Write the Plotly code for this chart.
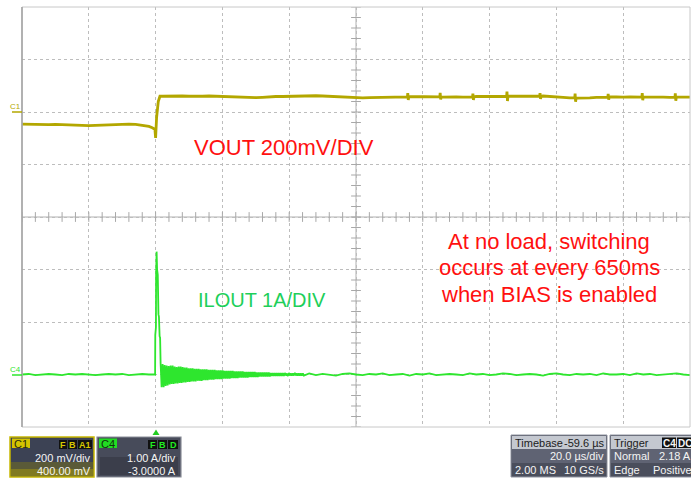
import numpy as np
import plotly.graph_objects as go

# ---------------- data ----------------
# time axis in microseconds, trigger at t = 0 (20 us/div, 10 div)
T_MIN, T_MAX = -40, 160
V_PER_DIV_MV = 200.0   # C1 200 mV/div
I_PER_DIV_A = 1.0      # C4 1 A/div
C1_OFFSET_DIV = 2.0    # C1 reference marker position (div)
C4_OFFSET_DIV = -3.0   # C4 reference marker position (div)

# VOUT (mV relative to C1 marker)
vout_pre_t = np.arange(-40, -1, 2)
vout_pre = [-46, -47, -46, -47, -48, -47, -47, -49, -50, -52,
            -52, -51, -50, -49, -47, -46, -46, -47, -50, -55]
vout_step_t = [-1.0, -0.5, -0.2, 0.0, 0.3, 0.8, 1.3]
vout_step = [-60, -64, -66, -99, -20, 40, 60]
vout_post_t = np.arange(2, 161, 2)
vout_post = [60, 61, 60, 61, 60, 59, 60, 61, 60, 59, 60,
             58, 57, 56, 55,
             56, 58, 59, 59, 60, 59,
             60, 61, 62, 61, 60,
             58, 56, 55, 55, 54, 55, 56, 55, 56, 57,
             58, 59, 59, 58, 59,
             58, 57, 58, 58, 57, 58, 59,
             59, 60, 59, 59, 60, 60, 61,
             61, 62, 61, 60, 58, 56,
             54, 53, 53, 54, 56,
             57, 58, 57, 57, 58, 57, 56, 57, 58, 57, 56, 57, 58, 57]
spike_t = [75.5, 85.2, 95.0, 105.2, 115.1, 125.6, 135.5, 145.7, 155.6]
spike_base = [58, 58, 58, 60, 60, 54, 57, 57, 57]
spike_hi = [72, 73, 70, 78, 72, 70, 69, 72, 71]
spike_lo = [46, 48, 46, 42, 50, 39, 47, 45, 43]

# ILOUT (A)
il_pre_t = np.arange(-40, -1, 2)
il_pre = [0.00, 0.01, -0.01, 0.00, 0.01, 0.00, -0.01, 0.01, 0.00, 0.01,
          0.00, -0.01, 0.00, 0.01, 0.00, 0.01, -0.01, 0.00, 0.01, 0.00]
il_spike_t = [-0.5, -0.15, -0.1, 0.1, 0.15, 0.3, 0.45, 0.65, 0.85, 1.0, 1.2, 1.35]
il_spike = [0.01, 0.00, 0.75, 0.90, 1.90, 2.34, 2.00, 1.90, 1.15, 1.10, 0.73, 0.70]
ring_t0, ring_period = 1.5, 0.6
ring_hi = [0.21, 0.20, 0.18, 0.17, 0.16, 0.17, 0.17, 0.15, 0.14, 0.15,
           0.15, 0.14, 0.13, 0.13, 0.12, 0.12, 0.12, 0.11, 0.11, 0.11,
           0.10, 0.10, 0.10, 0.10, 0.09, 0.09, 0.09, 0.09, 0.08, 0.08,
           0.08, 0.08, 0.07, 0.07, 0.07, 0.07, 0.07, 0.06, 0.06, 0.06,
           0.06, 0.06, 0.05, 0.05, 0.05, 0.05, 0.05, 0.05, 0.04, 0.04,
           0.04, 0.04, 0.04, 0.04, 0.04, 0.03, 0.03, 0.03, 0.03, 0.03,
           0.03, 0.03, 0.03, 0.02, 0.03, 0.02, 0.02, 0.03, 0.02, 0.02,
           0.02, 0.02]
ring_lo = [-0.24, -0.24, -0.22, -0.21, -0.19, -0.18, -0.18, -0.17, -0.17, -0.16,
           -0.16, -0.15, -0.15, -0.14, -0.14, -0.13, -0.13, -0.13, -0.12, -0.12,
           -0.12, -0.11, -0.11, -0.11, -0.10, -0.10, -0.10, -0.09, -0.09, -0.09,
           -0.09, -0.08, -0.08, -0.08, -0.08, -0.07, -0.07, -0.07, -0.07, -0.06,
           -0.06, -0.06, -0.06, -0.06, -0.05, -0.05, -0.05, -0.05, -0.05, -0.04,
           -0.04, -0.04, -0.04, -0.04, -0.04, -0.03, -0.03, -0.03, -0.03, -0.03,
           -0.03, -0.03, -0.02, -0.03, -0.02, -0.02, -0.02, -0.02, -0.02, -0.02,
           -0.02, -0.02]
il_post_t = np.arange(46, 161, 2)
il_post = [0.02, -0.01, 0.01, 0.00, -0.02, 0.01, 0.02, 0.00, -0.01, 0.01,
           0.00, 0.02, -0.01, 0.00, 0.01, -0.02, 0.01, 0.00, 0.02, -0.01,
           0.00, 0.01, 0.00, -0.01, 0.02, 0.00, 0.01, -0.01, 0.00, 0.02,
           0.01, -0.01, 0.00, 0.01, 0.00, -0.02, 0.01, 0.02, 0.00, -0.01,
           0.01, 0.00, 0.01, -0.01, 0.02, 0.00, 0.00, 0.01, -0.01, 0.02,
           0.00, 0.01, -0.01, 0.00, 0.01, 0.02, 0.00, -0.01]

# ---------------- assemble traces ----------------
pts = list(zip(vout_pre_t, vout_pre)) + list(zip(vout_step_t, vout_step)) + list(zip(vout_post_t, vout_post))
for ts, b, hi, lo in zip(spike_t, spike_base, spike_hi, spike_lo):
    pts += [(ts - 0.1, b), (ts, hi), (ts + 0.15, lo), (ts + 0.3, b)]
pts.sort(key=lambda p: p[0])
vt = [p[0] for p in pts]
vy = [p[1] / V_PER_DIV_MV + C1_OFFSET_DIV for p in pts]

ipts = list(zip(il_pre_t, il_pre)) + list(zip(il_spike_t, il_spike))
for k, (h, l) in enumerate(zip(ring_hi, ring_lo)):
    tk = ring_t0 + k * ring_period
    ipts += [(tk, h), (tk + ring_period / 2, l)]
ipts += list(zip(il_post_t, il_post))
ipts.sort(key=lambda p: p[0])
it = [p[0] for p in ipts]
iy = [p[1] / I_PER_DIV_A + C4_OFFSET_DIV for p in ipts]

# ---------------- figure ----------------
W, H = 691, 480
L, R, T, B = 22, 1, 7, 53
PW, PH = W - L - R, H - T - B
FONT = "Liberation Sans, Arial, sans-serif"
VCOL = "#b3a700"
ICOL = "#2ee62e"


def px(x):
    return (x - L) / PW


def py(y):
    return (H - B - y) / PH


fig = go.Figure()

# center-line tick marks
x_center = (T_MIN + T_MAX) / 2
fig.add_trace(go.Scatter(x=np.arange(T_MIN, T_MAX + 0.1, 4), y=np.zeros(51), mode="markers",
                         marker=dict(symbol="line-ns", size=7, line=dict(color="#a8a8a8", width=1)),
                         hoverinfo="skip", showlegend=False))
fig.add_trace(go.Scatter(x=np.full(41, x_center), y=np.arange(-4, 4.01, 0.2), mode="markers",
                         marker=dict(symbol="line-ew", size=7, line=dict(color="#a8a8a8", width=1)),
                         hoverinfo="skip", showlegend=False))

fig.add_trace(go.Scatter(x=vt, y=vy, mode="lines", line=dict(color=VCOL, width=2.8),
                         name="VOUT", showlegend=False))
fig.add_trace(go.Scatter(x=it, y=iy, mode="lines", line=dict(color=ICOL, width=1.8),
                         name="ILOUT", showlegend=False))

shapes = []
# center axes
shapes.append(dict(type="line", xref="x", yref="y", x0=T_MIN, x1=T_MAX, y0=0, y1=0,
                   line=dict(color="#b0b0b0", width=1), layer="below"))
shapes.append(dict(type="line", xref="x", yref="y", x0=x_center, x1=x_center, y0=-4, y1=4,
                   line=dict(color="#b0b0b0", width=1), layer="below"))
# plot border
shapes.append(dict(type="rect", xref="paper", yref="paper", x0=0, x1=1, y0=0, y1=1,
                   line=dict(color="#c8c8c8", width=1)))
shapes.append(dict(type="line", xref="paper", yref="paper", x0=0, x1=0, y0=0, y1=1,
                   line=dict(color="#a0a0a0", width=1.5)))

# channel reference markers
shapes.append(dict(type="line", xref="paper", yref="paper", x0=px(12), x1=px(22), y0=py(112), y1=py(112),
                   line=dict(color=VCOL, width=1.5)))
shapes.append(dict(type="line", xref="paper", yref="paper", x0=px(12), x1=px(22), y0=py(375), y1=py(375),
                   line=dict(color=ICOL, width=1.5)))
# trigger triangle
shapes.append(dict(type="path", xref="paper", yref="paper",
                   path=f"M {px(152.5)} {py(435)} L {px(159.5)} {py(435)} L {px(156)} {py(429.5)} Z",
                   fillcolor="#22cc22", line=dict(width=0)))

annotations = []


def rect(x0, x1, y0, y1, fill, line=None, lw=1):
    shapes.append(dict(type="rect", xref="paper", yref="paper", x0=px(x0), x1=px(x1), y0=py(y1), y1=py(y0),
                       fillcolor=fill, line=dict(color=line or fill, width=lw if line else 0)))


def text(x, y, s, size=11, color="#f2f2f2", xanchor="left", bold=False):
    annotations.append(dict(xref="paper", yref="paper", x=px(x), y=py(y), text=(f"<b>{s}</b>" if bold else s),
                            showarrow=False, xanchor=xanchor, yanchor="middle",
                            font=dict(family=FONT, size=size, color=color)))


# C1 panel
rect(10, 94, 437, 477, "#3c4254", "#c8b800", 1.5)
rect(11, 93, 462, 469, "#5a5a38")
rect(11, 93, 469, 476, "#807a22")
rect(12, 30, 438.5, 448, "#d4c400")
text(21, 443.5, "C1", 11, "#2a2a10", "center")
for (a, b, s) in [(59, 67, "F"), (68, 77, "B"), (78, 92, "A1")]:
    rect(a, b, 440, 449, "#111111")
    text((a + b) / 2, 444.5, s, 9, "#d8c800", "center", bold=True)
text(93, 458, "200 mV/div", 11, "#f4f4f4", "right")
text(93, 471, "400.00 mV", 11, "#f4f4f4", "right")

# C4 panel
rect(97, 181, 437, 477, "#474b5a", "#8a8e98", 1.2)
rect(100, 178, 457, 475, "#3b3e4b")
rect(99, 117, 438.5, 448, "#22dd22")
text(108, 443.5, "C4", 11, "#103010", "center")
for (a, b, s) in [(148, 157, "F"), (158, 167, "B"), (168, 178, "D")]:
    rect(a, b, 440, 449, "#111111")
    text((a + b) / 2, 444.5, s, 9, "#22ee22", "center", bold=True)
text(178, 458, "1.00 A/div", 11, "#f4f4f4", "right")
text(178, 471, "-3.0000 A", 11, "#f4f4f4", "right")

# Timebase panel
rect(511, 607, 435, 477, "#4a4e5c", "#9094a0", 1)
rect(512, 606, 436, 449, "#c4c8d0")
rect(512, 606, 449, 463, "#5f6373")
text(513, 442.5, "Timebase", 11, "#1c1c1c")
text(606, 442.5, "-59.6 µs", 11, "#1c1c1c", "right")
text(606, 456, "20.0 µs/div", 11, "#f4f4f4", "right")
text(513, 470, "2.00 MS", 11, "#f4f4f4")
text(606, 470, "10 GS/s", 11, "#f4f4f4", "right")

# Trigger panel
rect(610, 700, 435, 477, "#4a4e5c", "#9094a0", 1)
rect(611, 700, 436, 449, "#c4c8d0")
rect(611, 700, 449, 463, "#5f6373")
text(612, 442.5, "Trigger", 11, "#1c1c1c")
rect(662, 676, 437.5, 448, "#111111")
text(669, 443, "C4", 10, "#f4f4f4", "center", bold=True)
rect(677, 693, 437.5, 448, "#111111")
text(685, 443, "DC", 10, "#f4f4f4", "center", bold=True)
text(612, 456, "Normal", 11, "#f4f4f4")
text(693, 456, "2.18 A", 11, "#f4f4f4", "right")
text(612, 470, "Edge", 11, "#f4f4f4")
text(694, 470, "Positive", 11, "#f4f4f4", "right")

# channel labels
text(15, 106, "C1", 8, VCOL, "center")
text(15, 369, "C4", 8, ICOL, "center")

# main annotations
text(284, 147, "VOUT 200mV/DIV", 22, "#ff1010", "center")
text(262, 300, "ILOUT 1A/DIV", 20, "#1ecf5a", "center")
text(549, 241, "At no load, switching", 22, "#ff1010", "center")
text(549, 267.5, "occurs at every 650ms", 22, "#ff1010", "center")
text(549, 294, "when BIAS is enabled", 22, "#ff1010", "center")

fig.update_layout(
    width=W, height=H, margin=dict(l=L, r=R, t=T, b=B, autoexpand=False),
    paper_bgcolor="white", plot_bgcolor="white",
    shapes=shapes, annotations=annotations, showlegend=False,
    font=dict(family=FONT),
)
fig.update_xaxes(range=[T_MIN, T_MAX], dtick=20, showgrid=True, gridcolor="#bdbdbd", griddash="dot",
                 gridwidth=1, zeroline=False, showticklabels=False, ticks="", fixedrange=True)
fig.update_yaxes(range=[-4, 4], dtick=1, showgrid=True, gridcolor="#bdbdbd", griddash="dot",
                 gridwidth=1, zeroline=False, showticklabels=False, ticks="", fixedrange=True)

fig.write_html("out.html", config={"displayModeBar": False},
               post_script="document.body.style.margin='0';document.body.style.overflow='hidden';")
